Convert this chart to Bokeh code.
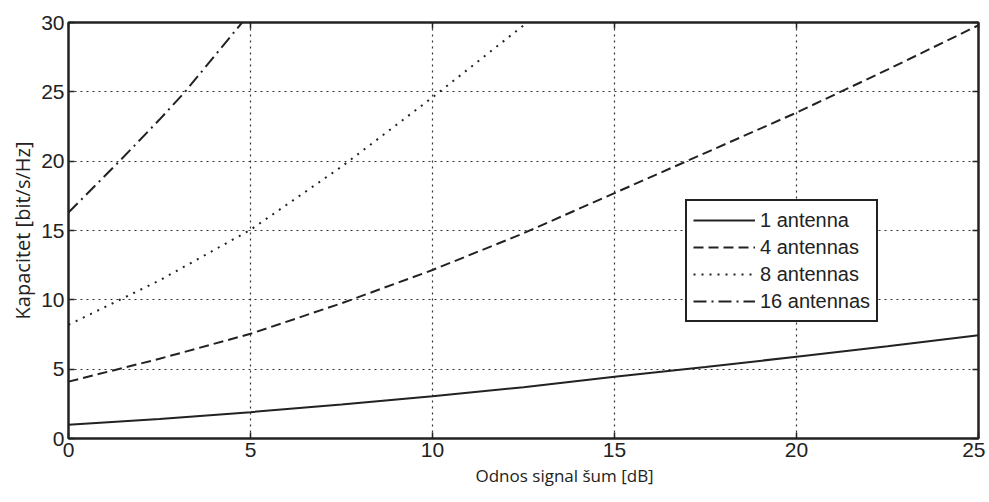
from bokeh.plotting import figure
from bokeh.models import (Range1d, LinearAxis, FixedTicker, Legend, LegendItem, Title,
                          CustomLabelingPolicy)
from bokeh.embed import file_html
from bokeh.resources import INLINE

# ---- data ----
snr_1 = [0, 2.5, 5, 7.5, 10, 12.5, 15, 17.5, 20, 22.5, 25]
cap_1 = [1.0, 1.4, 1.9, 2.45, 3.05, 3.7, 4.45, 5.15, 5.9, 6.65, 7.45]

snr_4 = [0, 2.5, 5, 7.5, 10, 12.5, 15, 17.5, 20, 22.5, 25]
cap_4 = [4.1, 5.75, 7.55, 9.75, 12.15, 14.8, 17.7, 20.6, 23.5, 26.6, 29.8]

snr_8 = [0, 2.5, 5, 7.5, 10, 12.6]
cap_8 = [8.2, 11.4, 15.05, 19.6, 24.6, 30.0]

snr_16 = [0, 1.4, 2.5, 3.2, 4.77]
cap_16 = [16.3, 20.0, 23.0, 25.0, 30.0]

legend_labels = ["1 antenna", "4 antennas", "8 antennas", "16 antennas"]
x_ticks = [0, 5, 10, 15, 20, 25]
y_ticks = [0, 5, 10, 15, 20, 25, 30]
x_label = "Odnos signal šum [dB]"
y_label = "Kapacitet [bit/s/Hz]"

TICK_FONT = "Liberation Sans"
LABEL_FONT = "Open Sans"
INK = "#222222"

p = figure(width=985, height=498, output_backend="svg", toolbar_location=None,
           x_range=Range1d(0, 25), y_range=Range1d(0, 30),
           min_border_left=68, min_border_right=7, min_border_top=22, min_border_bottom=60)
p.background_fill_color = "white"
p.border_fill_color = "white"
p.outline_line_color = INK
p.outline_line_width = 2

for ax, ticks in ((p.xaxis[0], x_ticks), (p.yaxis[0], y_ticks)):
    ax.ticker = FixedTicker(ticks=ticks)
    ax.major_tick_in = 6
    ax.major_tick_out = 0
    ax.minor_tick_in = 0
    ax.minor_tick_out = 0
    ax.major_tick_line_color = INK
    ax.major_tick_line_width = 1.5
    ax.axis_line_color = INK
    ax.axis_line_width = 2
    ax.major_label_text_font = TICK_FONT
    ax.major_label_text_font_size = "21px"
    ax.major_label_text_color = INK
    ax.major_label_standoff = 4

p.yaxis[0].axis_label = y_label
p.yaxis[0].axis_label_text_font = LABEL_FONT
p.yaxis[0].axis_label_text_font_size = "20px"
p.yaxis[0].axis_label_text_font_style = "normal"
p.yaxis[0].axis_label_text_color = INK
p.yaxis[0].axis_label_standoff = 2

# mirrored axes (ticks only, labels suppressed) on top and right
hide_all = """
try { for (const i of Array.from(indices.ones())) indices.unset(i) } catch (e) {}
return indices
"""
top_ax = LinearAxis(ticker=FixedTicker(ticks=x_ticks))
right_ax = LinearAxis(ticker=FixedTicker(ticks=y_ticks))
for ax in (top_ax, right_ax):
    ax.major_tick_in = 6
    ax.major_tick_out = 0
    ax.minor_tick_in = 0
    ax.minor_tick_out = 0
    ax.major_tick_line_color = INK
    ax.major_tick_line_width = 1.5
    ax.axis_line_color = INK
    ax.axis_line_width = 2
    ax.major_label_text_font_size = "1px"
    ax.major_label_text_alpha = 0
    ax.major_label_standoff = 0
    ax.major_label_policy = CustomLabelingPolicy(code=hide_all)
p.add_layout(top_ax, "above")
p.add_layout(right_ax, "right")

# grid
for g, ticks in ((p.xgrid[0], x_ticks), (p.ygrid[0], y_ticks)):
    g.ticker = FixedTicker(ticks=ticks)
    g.grid_line_color = "#333333"
    g.grid_line_dash = "2 4"
    g.grid_line_width = 1.2
    g.grid_line_alpha = 1.0

# x axis label as a title below (shifted right as in reference)
p.add_layout(Title(text=x_label, align="left", offset=407, text_font=LABEL_FONT,
                   text_font_size="17px", text_font_style="normal", text_color=INK,
                   standoff=4), "below")

r1 = p.line(snr_1, cap_1, line_color=INK, line_width=2)
r4 = p.line(snr_4, cap_4, line_color=INK, line_width=2, line_dash="10 5")
r8 = p.line(snr_8, cap_8, line_color=INK, line_width=2, line_dash="2 6")
r16 = p.line(snr_16, cap_16, line_color=INK, line_width=2, line_dash="13 5 2 5")

legend = Legend(items=[LegendItem(label=lab, renderers=[r]) for lab, r in
                       zip(legend_labels, [r1, r4, r8, r16])],
                location=(617, 116))
legend.label_text_font = TICK_FONT
legend.label_text_font_size = "20px"
legend.label_text_color = INK
legend.glyph_width = 62
legend.glyph_height = 26
legend.label_height = 26
legend.label_standoff = 5
legend.spacing = 1
legend.padding = 6
legend.margin = 0
legend.border_line_color = INK
legend.border_line_alpha = 1.0
legend.border_line_width = 2
legend.background_fill_color = "white"
legend.background_fill_alpha = 1.0
p.add_layout(legend, "center")

open("out.html", "w").write(file_html(p, INLINE))
